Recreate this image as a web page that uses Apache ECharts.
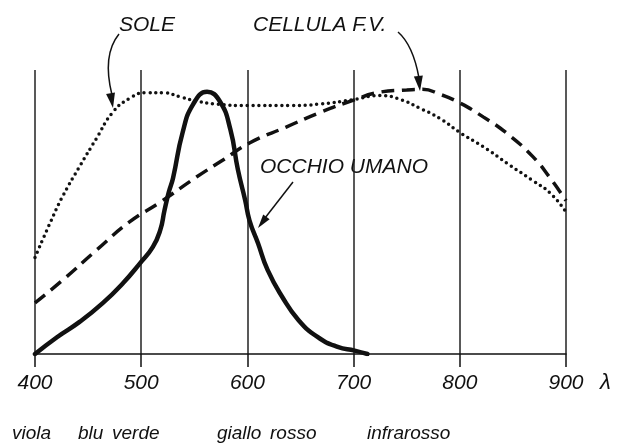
<!DOCTYPE html>
<html>
<head>
<meta charset="utf-8">
<script src="https://cdn.jsdelivr.net/npm/echarts@6/dist/echarts.min.js"></script>
<style>html,body{margin:0;padding:0;background:#fff}#c{width:619px;height:445px}</style>
</head>
<body>
<div id="c"></div>
<script>
// Wavelength ticks (nm)
const xTicks = [400, 500, 600, 700, 800, 900];
// Eye sensitivity (solid)
const eyeX = [400, 421, 442, 464, 483, 499, 511, 518, 522, 526, 530, 539, 549, 562, 574, 584, 591, 598, 602, 610, 619, 633, 648, 666, 685, 701, 713];
const eyeY = [0, 6, 11.3, 18, 25, 32, 37.7, 43.7, 50.7, 57, 62, 78, 88, 92.3, 89, 79, 65, 54, 47, 39, 29.6, 20, 12, 6, 2.5, 1.2, 0];
// Sun spectrum (dotted)
const sunX = [400, 414, 426, 442, 458, 473, 489, 505, 521, 537, 553, 571, 600, 640, 668, 700, 725, 745, 762, 781, 800, 822, 847, 869, 885, 900];
const sunY = [34, 46, 55.5, 66, 76, 85, 90, 92, 92, 90.5, 89, 88, 87.5, 87.5, 88, 89.6, 91, 89.5, 86.6, 83, 78, 73, 66.5, 61, 56.7, 50];
// Photovoltaic cell (dashed)
const cellX = [400, 426, 458, 489, 518, 552, 577, 602, 637, 668, 700, 722, 750, 765, 781, 800, 822, 844, 869, 885, 900];
const cellY = [18, 26, 36.6, 46.5, 53.5, 62.3, 68.3, 74.3, 80, 85, 89.4, 92, 93, 93.2, 91.5, 88.4, 83.5, 77.8, 69.4, 62, 54];
// Colour band labels
const bandLabels = ['viola', 'blu', 'verde', 'giallo', 'rosso', 'infrarosso'];
const seriesNames = ['SOLE', 'CELLULA F.V.', 'OCCHIO UMANO'];

const zip = (a, b) => a.map((v, i) => [v, b[i]]);
const FONT = 'Liberation Sans';
const INK = '#111';

const chart = echarts.init(document.getElementById('c'), null, {renderer: 'canvas'});

function txt(x, y, s, size) {
  return {type: 'text', left: x, top: y, style: {text: s, font: 'italic ' + (size || 21) + 'px "' + FONT + '"', fill: INK}};
}
function arrowHead(tipX, tipY, fromX, fromY, len, half) {
  const dx = tipX - fromX, dy = tipY - fromY;
  const d = Math.hypot(dx, dy);
  const ux = dx / d, uy = dy / d;
  const bx = tipX - ux * len, by = tipY - uy * len;
  return {type: 'polygon', shape: {points: [[tipX, tipY], [bx - uy * half, by + ux * half], [bx + uy * half, by - ux * half]]}, style: {fill: INK}};
}

const option = {
  backgroundColor: '#fff',
  animation: false,
  grid: {left: 35, right: 53, top: 70, bottom: 91},
  xAxis: {
    type: 'value', min: 400, max: 900, interval: 100,
    axisLine: {show: true, lineStyle: {color: INK, width: 1.5}},
    axisTick: {show: true, length: 13, lineStyle: {color: INK, width: 1.5}},
    axisLabel: {fontFamily: FONT, fontStyle: 'italic', fontSize: 21, color: INK, margin: 19,
      formatter: v => xTicks.includes(v) ? String(v) : ''},
    splitLine: {show: true, lineStyle: {color: '#222', width: 1.5}}
  },
  yAxis: {type: 'value', min: 0, max: 100, show: false, splitLine: {show: false}},
  series: [
    {name: seriesNames[0], type: 'line', data: zip(sunX, sunY), smooth: 0.5, symbol: 'none',
      lineStyle: {color: INK, width: 3.5, type: [0, 5.8], cap: 'round'}},
    {name: seriesNames[1], type: 'line', data: zip(cellX, cellY), smooth: 0.5, symbol: 'none',
      lineStyle: {color: INK, width: 3.5, type: [13, 7.5]}},
    {name: seriesNames[2], type: 'line', data: zip(eyeX, eyeY), smooth: 0.5, symbol: 'none',
      lineStyle: {color: INK, width: 4.5, cap: 'round', join: 'round'}}
  ],
  graphic: [
    txt(119, 15, seriesNames[0]),
    txt(253, 15, seriesNames[1]),
    txt(260, 157, seriesNames[2]),
    txt(600, 372, 'λ', 22),
    txt(12, 424, bandLabels[0], 19),
    txt(78, 424, bandLabels[1], 19),
    txt(112, 424, bandLabels[2], 19),
    txt(217, 424, bandLabels[3], 19),
    txt(270, 424, bandLabels[4], 19),
    txt(367, 424, bandLabels[5], 19),
    // SOLE arrow
    {type: 'bezierCurve', shape: {x1: 119, y1: 34, cpx1: 102, cpy1: 55, x2: 112, y2: 95}, style: {stroke: INK, lineWidth: 1.5, fill: null}},
    arrowHead(113, 108, 110, 90, 15, 4.5),
    // CELLULA arrow
    {type: 'bezierCurve', shape: {x1: 398, y1: 32, cpx1: 413, cpy1: 45, x2: 419, y2: 78}, style: {stroke: INK, lineWidth: 1.5, fill: null}},
    arrowHead(420, 91, 418, 73, 15, 4.5),
    // OCCHIO arrow
    {type: 'line', shape: {x1: 293, y1: 182, x2: 265, y2: 218}, style: {stroke: INK, lineWidth: 1.5}},
    arrowHead(258, 228, 270, 212, 14, 4)
  ]
};
chart.setOption(option);
</script>
</body>
</html>
